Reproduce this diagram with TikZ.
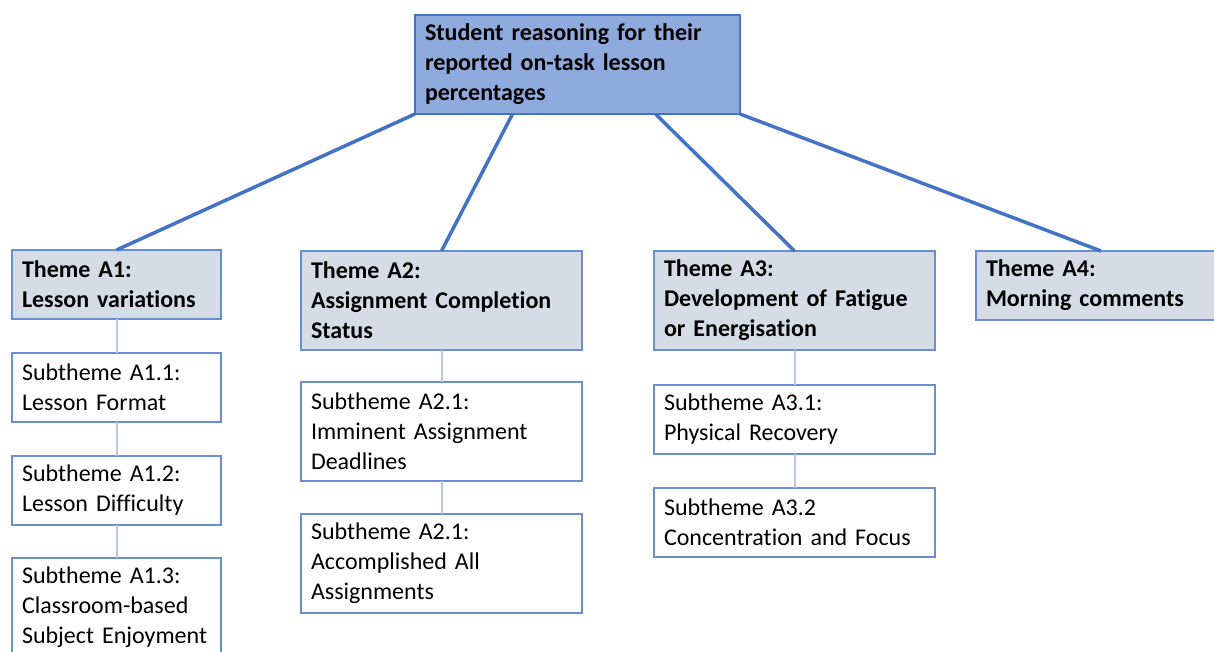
\documentclass[tikz,border=0pt]{standalone}
\usepackage{fontspec}
\setmainfont{Carlito}[Ligatures=NoCommon]
\usepackage{xcolor}
\usepackage{tikz}
\usetikzlibrary{positioning,calc}

\definecolor{rootfill}{HTML}{8FAADC}
\definecolor{rootline}{HTML}{4472C4}
\definecolor{themefill}{HTML}{D6DCE5}
\definecolor{boxline}{HTML}{6A8ED4}
\definecolor{twigline}{HTML}{B4C7E7}
\newcommand{\boxfont}{\fontsize{24}{30}\selectfont}

\begin{document}
\begin{tikzpicture}[
    x=1pt, y=-1pt,
    node distance=34pt,
    rootbox/.style={rectangle, draw=rootline, fill=rootfill, line width=1.5pt, outer sep=0pt, text width=305pt, minimum height=99pt, inner xsep=10pt, align=left, font=\boxfont\bfseries},
    themebox/.style={rectangle, draw=boxline, fill=themefill, line width=1.5pt, outer sep=0pt, inner xsep=10pt, align=left, font=\boxfont\bfseries},
    subbox/.style={rectangle, draw=boxline, fill=white, line width=1.2pt, outer sep=0pt, inner xsep=10pt, align=left, font=\boxfont},
    narrow/.style={text width=189pt},
    wide/.style={text width=261pt},
    two/.style={minimum height=69pt},
    three/.style={minimum height=99pt},
    trunk/.style={draw=rootline, line width=3.5pt},
    twig/.style={draw=twigline, line width=2pt}
]
\useasboundingbox (0,0) rectangle (1214,651);
\clip (0,0) rectangle (1214,651);

% Root
\node[rootbox, anchor=north west] (root) at (415,15) {Student reasoning for their\\reported on-task lesson\\percentages};

% Themes
\node[themebox, narrow, two, anchor=north west] (a1) at (12,250) {Theme A1:\\Lesson variations};
\node[themebox, wide, three, anchor=north west] (a2) at (301,251) {Theme A2:\\Assignment Completion\\Status};
\node[themebox, wide, three, anchor=north west] (a3) at (654,251) {Theme A3:\\Development of Fatigue\\or Energisation};
\node[themebox, text width=230pt, two, anchor=north west] (a4) at (976,251) {Theme A4:\\Morning comments};

% Subthemes
\node[subbox, narrow, two, below=of a1] (a11) {Subtheme A1.1:\\Lesson Format};
\node[subbox, narrow, two, below=of a11] (a12) {Subtheme A1.2:\\Lesson Difficulty};
\node[subbox, narrow, three, below=33pt of a12, inner ysep=5pt] (a13) {Subtheme A1.3:\\Classroom-based\\Subject Enjoyment};
\node[subbox, wide, three, below=32pt of a2] (a21) {Subtheme A2.1:\\Imminent Assignment\\Deadlines};
\node[subbox, wide, three, below=33pt of a21] (a22) {Subtheme A2.1:\\Accomplished All\\Assignments};
\node[subbox, wide, two, below=35pt of a3] (a31) {Subtheme A3.1:\\Physical Recovery};
\node[subbox, wide, two, below=of a31] (a32) {Subtheme A3.2\\Concentration and Focus};

% Links
\path[trunk] (root.south west) -- (a1.north);
\path[trunk] ($(root.south west)!0.3!(root.south east)$) -- (a2.north);
\path[trunk] ($(root.south west)!0.74!(root.south east)$) -- (a3.north);
\path[trunk] (root.south east) -- (a4.north);
\path[twig] (a1) -- (a11);
\path[twig] (a11) -- (a12);
\path[twig] (a12) -- (a13);
\path[twig] (a2) -- (a21);
\path[twig] (a21) -- (a22);
\path[twig] (a3) -- (a31);
\path[twig] (a31) -- (a32);

\end{tikzpicture}
\end{document}
